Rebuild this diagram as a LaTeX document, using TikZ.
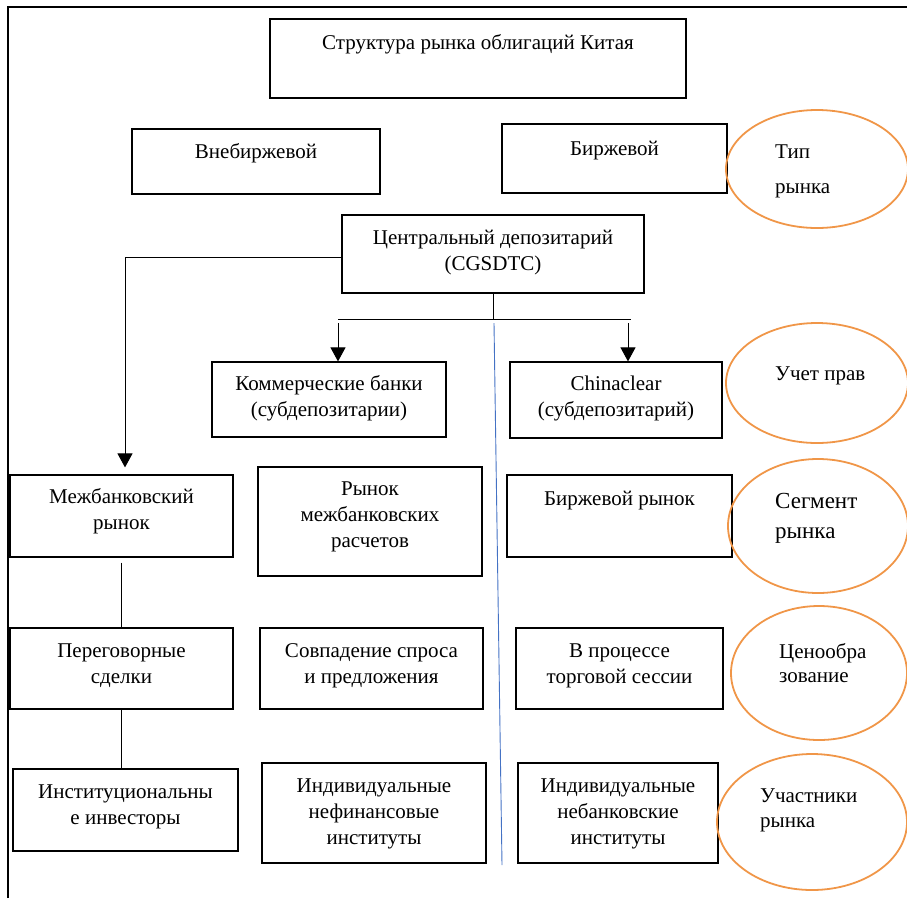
\documentclass[tikz,border=0pt]{standalone}
\usepackage{fontspec}
\setmainfont{Liberation Serif}
\usetikzlibrary{arrows.meta,calc}
\definecolor{orng}{RGB}{240,150,72}
\definecolor{bluel}{RGB}{68,114,196}
\tikzset{
  box/.style={draw=black, line width=1.2pt, inner sep=0pt, fill=none},
  txt/.style={font=\rmfamily\fontsize{21}{26}\selectfont, align=center, inner sep=0pt, anchor=north},
  ltxt/.style={font=\rmfamily\fontsize{21}{26}\selectfont, align=left, inner sep=0pt, anchor=north west},
  oval/.style={draw=orng, line width=1.8pt},
  conn/.style={draw=black, line width=1pt},
  arr/.style={conn, -{Triangle[width=15pt,length=14pt]}},
}
\begin{document}
\begin{tikzpicture}[x=1pt,y=-1pt]
\useasboundingbox (0,0) rectangle (907,898);
% frame
\draw[line width=1.2pt] (8,898) -- (8,7) -- (907,7);

% boxes
\node[box, minimum width=416pt, minimum height=79pt] (title) at (478,58.5) {};
\node[txt] (titlet) at (478,31) {\strut Структура рынка облигаций Китая};

\node[box, minimum width=248pt, minimum height=65pt] (vneb) at (256,161.5) {};
\node[txt] (vnebt) at (256,140) {\strut Внебиржевой};

\node[box, minimum width=225pt, minimum height=69pt] (birzh) at (614.5,158.5) {};
\node[txt] (birzht) at (614.5,137) {\strut Биржевой};

\node[box, minimum width=302pt, minimum height=78pt] (central) at (493,254) {};
\node[txt] (centralt) at (493,226) {\strut Центральный депозитарий\\(CGSDTC)};

\node[box, minimum width=234pt, minimum height=75pt] (kom) at (329,399.5) {};
\node[txt] (komt) at (329,372) {\strut Коммерческие банки\\(субдепозитарии)};

\node[box, minimum width=212pt, minimum height=76pt] (china) at (616,400) {};
\node[txt] (chinat) at (616,372) {\strut Chinaclear\\(субдепозитарий)};

\node[box, minimum width=223pt, minimum height=82pt] (mezh) at (121.5,516) {};
\node[txt] (mezht) at (121.5,485) {\strut Межбанковский\\рынок};

\node[box, minimum width=224pt, minimum height=109pt] (rmezh) at (370,521.5) {};
\node[txt] (rmezht) at (370,477) {\strut Рынок\\межбанковских\\расчетов};

\node[box, minimum width=225pt, minimum height=82pt] (bryn) at (619.5,516) {};
\node[txt] (brynt) at (619.5,487) {\strut Биржевой рынок};

\node[box, minimum width=223pt, minimum height=81pt] (pereg) at (121.5,668.5) {};
\node[txt] (peregt) at (121.5,639) {\strut Переговорные\\сделки};

\node[box, minimum width=223pt, minimum height=81pt] (sovp) at (371.5,668.5) {};
\node[txt] (sovpt) at (371.5,639) {\strut Совпадение спроса\\и предложения};

\node[box, minimum width=207pt, minimum height=81pt] (vproc) at (619.5,668.5) {};
\node[txt] (vproct) at (619.5,639) {\strut В процессе\\торговой сессии};

\node[box, minimum width=225pt, minimum height=82pt] (inst) at (125.5,810) {};
\node[txt] (instt) at (125.5,780) {\strut Институциональны\\е инвесторы};

\node[box, minimum width=224pt, minimum height=100pt] (indnef) at (374,813) {};
\node[txt] (indneft) at (374,774) {\strut Индивидуальные\\нефинансовые\\институты};

\node[box, minimum width=200pt, minimum height=100pt] (indneb) at (618,813) {};
\node[txt] (indnebt) at (618,774) {\strut Индивидуальные\\небанковские\\институты};

% ellipses
\draw[oval] (817,169) ellipse [x radius=91, y radius=59];
\node[ltxt] (el1) at (775,140) {\strut Тип\\[9pt]рынка};

\draw[oval] (817,383) ellipse [x radius=91, y radius=60];
\node[ltxt] (el2) at (775,362) {\strut Учет прав};

\draw[oval] (818,526) ellipse [x radius=90, y radius=67];
\node[ltxt, font=\rmfamily\fontsize{23}{30}\selectfont] (el3) at (775,487.5) {\strut Сегмент\\рынка};

\draw[oval] (819,673) ellipse [x radius=88, y radius=67];
\node[ltxt, font=\rmfamily\fontsize{21}{24}\selectfont] (el4) at (779,641) {\strut Ценообра\\зование};

\draw[oval] (812,822) ellipse [x radius=95, y radius=68];
\node[ltxt, font=\rmfamily\fontsize{21}{25}\selectfont] (el5) at (760,785) {\strut Участники\\рынка};

% connectors
\coordinate (busL) at (338,319);
\coordinate (busR) at (631,319);
\draw[conn] (central.south) -- (central.south |- busL);
\draw[conn] (busL) -- (busR);
\draw[arr] ([yshift=-4pt]busL) -- (busL |- kom.north);
\draw[arr] ([xshift=-3pt,yshift=-4pt]busR) -- ([xshift=-3pt]busR |- china.north);
\draw[arr] ([yshift=-3pt]central.west) -| ([xshift=3.5pt,yshift=7pt]mezh.north);
\draw[conn] ([yshift=-5pt]mezh.south) -- (pereg.north);
\draw[conn] (pereg.south) -- (pereg.south |- inst.north);

% blue divider
\coordinate (bt) at (494,323);
\coordinate (bb) at (502,865);
\draw[bluel, line width=0.9pt] (bt) -- (bb);
\end{tikzpicture}
\end{document}
